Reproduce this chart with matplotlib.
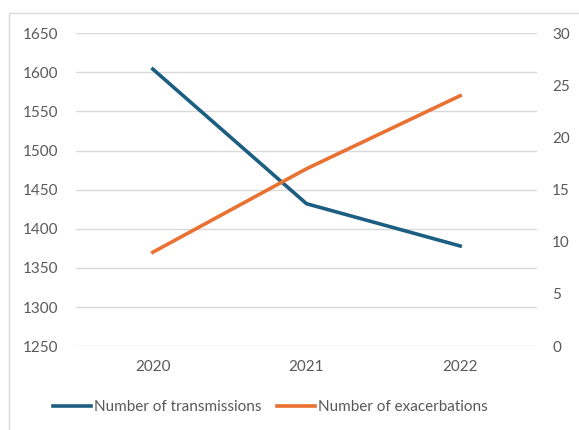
import matplotlib.pyplot as plt
from matplotlib.patches import Rectangle

years = ["2020", "2021", "2022"]
transmissions = [1604, 1432, 1378]
exacerbations = [9, 17, 24]

plt.rcParams['font.family'] = ['Lato', 'DejaVu Sans']

fig = plt.figure(figsize=(5.79, 4.3), dpi=100)
fig.patches.append(Rectangle((9 / 579, -0.1), 1.2, 1.1 - 13 / 430, transform=fig.transFigure,
                             fill=False, edgecolor='#d9d9d9', linewidth=1))

ax = fig.add_axes([76 / 579, 0.195, 461 / 579, 0.728])
ax2 = ax.twinx()

x = range(len(years))
ax.plot(x, transmissions, color='#1b5e82', linewidth=2.6, label='Number of transmissions')
ax2.plot(x, exacerbations, color='#e97132', linewidth=2.6, label='Number of exacerbations')

ax.set_xlim(-0.5, 2.5)
ax.set_ylim(1250, 1650)
ax.set_yticks(range(1250, 1651, 50))
ax2.set_ylim(0, 30)
ax2.set_yticks(range(0, 31, 5))
ax.set_xticks(list(x))
ax.set_xticklabels(years)

ax.grid(axis='y', color='#d9d9d9', linewidth=1)
ax.set_axisbelow(True)
for a in (ax, ax2):
    for s in a.spines.values():
        s.set_visible(False)
    a.tick_params(length=0, labelsize=11, labelcolor='#595959')
ax.tick_params(axis='y', pad=13)
ax2.tick_params(axis='y', pad=11)
ax.tick_params(axis='x', pad=10)

h1, l1 = ax.get_legend_handles_labels()
h2, l2 = ax2.get_legend_handles_labels()
fig.legend(h1 + h2, l1 + l2, loc='center', bbox_to_anchor=(0.467, 0.053), ncol=2, frameon=False,
           fontsize=11, labelcolor='#595959', handlelength=2.45, handletextpad=0.2, columnspacing=1.05)

fig.savefig('out.png', dpi=100)
